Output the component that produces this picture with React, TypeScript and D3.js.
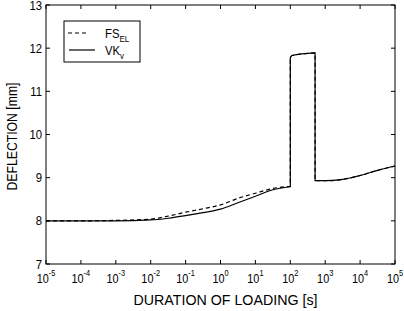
import React from "react";
import * as d3 from "d3";

// duration of loading as log10(t [s]); the curve jumps at 10^2 s and drops back at ~10^2.71 s
const logTime = [-5, -4, -3, -2, -1.5, -1, -0.5, 0, 0.5, 1, 1.5, 2, 2, 2.05, 2.71, 2.71, 3, 3.5, 4, 4.5, 5];
// deflection [mm]
const fsEl = [8.0, 8.0, 8.01, 8.04, 8.11, 8.2, 8.28, 8.37, 8.52, 8.64, 8.75, 8.8, 11.78, 11.83, 11.89, 8.93, 8.93, 8.96, 9.05, 9.17, 9.27];
const vkV = [8.0, 8.0, 8.0, 8.02, 8.06, 8.12, 8.19, 8.27, 8.42, 8.57, 8.72, 8.79, 11.78, 11.83, 11.89, 8.93, 8.93, 8.96, 9.05, 9.17, 9.27];

const xTickExp = [-5, -4, -3, -2, -1, 0, 1, 2, 3, 4, 5];
const yTicks = [7, 8, 9, 10, 11, 12, 13];

const W = 404;
const H = 311;
const left = 46;
const right = 395;
const top = 5;
const bottom = 264;
const font = "'Liberation Sans', Arial, sans-serif";
const sx = 0.87; // the original text is a bit narrow

export default function App() {
  const x = d3.scaleLog().domain([1e-5, 1e5]).range([left, right]);
  const y = d3.scaleLinear().domain([7, 13]).range([bottom, top]);

  // split the series where the time repeats (vertical jumps), smooth each piece
  const mk = (vals: number[]) => {
    const pts = logTime.map((t, i) => [x(Math.pow(10, t)), y(vals[i])] as [number, number]);
    const pieces: [number, number][][] = [[]];
    pts.forEach((p, i) => {
      if (i > 0 && logTime[i] === logTime[i - 1]) pieces.push([]);
      pieces[pieces.length - 1].push(p);
    });
    const gen = d3.line().curve(d3.curveMonotoneX);
    return pieces
      .map((pc, i) => {
        const d = pc.length > 1 ? gen(pc) || "" : `M${pc[0][0]},${pc[0][1]}`;
        return i === 0 ? d : "L" + d.slice(1);
      })
      .join("");
  };

  const tk = 4;

  return (
    <svg
      width={W}
      height={H}
      style={{ position: "absolute", left: 0, top: 0, background: "#fff" }}
      fontFamily={font}
    >
      <rect x={0} y={0} width={W} height={H} fill="#fff" />
      {/* curves */}
      <path d={mk(vkV)} fill="none" stroke="#000" strokeWidth={1.2} />
      <path d={mk(fsEl)} fill="none" stroke="#000" strokeWidth={1.2} strokeDasharray="4,3" />

      {/* frame */}
      <rect x={left} y={top} width={right - left} height={bottom - top} fill="none" stroke="#000" strokeWidth={1} />

      {/* x ticks */}
      {xTickExp.map((e) => {
        const px = x(Math.pow(10, e));
        return (
          <g key={"x" + e}>
            <line x1={px} x2={px} y1={bottom} y2={bottom - tk} stroke="#000" />
            <line x1={px} x2={px} y1={top} y2={top + tk} stroke="#000" />
            <text transform={`translate(${px},283) scale(${sx},1)`} textAnchor="middle" fontSize={12.5}>
              <tspan>10</tspan>
              <tspan fontSize={8.5} dy={-7}>{e}</tspan>
            </text>
          </g>
        );
      })}

      {/* y ticks */}
      {yTicks.map((v) => {
        const py = y(v);
        return (
          <g key={"y" + v}>
            <line x1={left} x2={left + tk} y1={py} y2={py} stroke="#000" />
            <line x1={right} x2={right - tk} y1={py} y2={py} stroke="#000" />
            <text transform={`translate(42,${py + 4.5}) scale(${sx},1)`} textAnchor="end" fontSize={13}>
              {v}
            </text>
          </g>
        );
      })}

      {/* axis titles */}
      <text
        x={(left + right) / 2 + 5}
        y={305}
        textAnchor="middle"
        fontSize={15}
        textLength={184}
        lengthAdjust="spacingAndGlyphs"
      >
        DURATION OF LOADING [s]
      </text>
      <text
        transform={`translate(17,${(top + bottom) / 2 + 2}) rotate(-90)`}
        textAnchor="middle"
        fontSize={14}
        textLength={108}
        lengthAdjust="spacingAndGlyphs"
      >
        DEFLECTION [mm]
      </text>

      {/* legend */}
      <rect x={64} y={21} width={76} height={41} fill="#fff" stroke="#000" />
      <line x1={68} x2={88} y1={33} y2={33} stroke="#000" strokeWidth={1.2} strokeDasharray="4,3" />
      <line x1={69} x2={95} y1={50} y2={50} stroke="#000" strokeWidth={1.2} />
      <text transform={`translate(105,38) scale(${sx},1)`} fontSize={13}>
        FS<tspan fontSize={9} dy={3.5}>EL</tspan>
      </text>
      <text transform={`translate(105,55) scale(${sx},1)`} fontSize={13}>
        VK<tspan fontSize={9} dy={3.5}>v</tspan>
      </text>
    </svg>
  );
}
